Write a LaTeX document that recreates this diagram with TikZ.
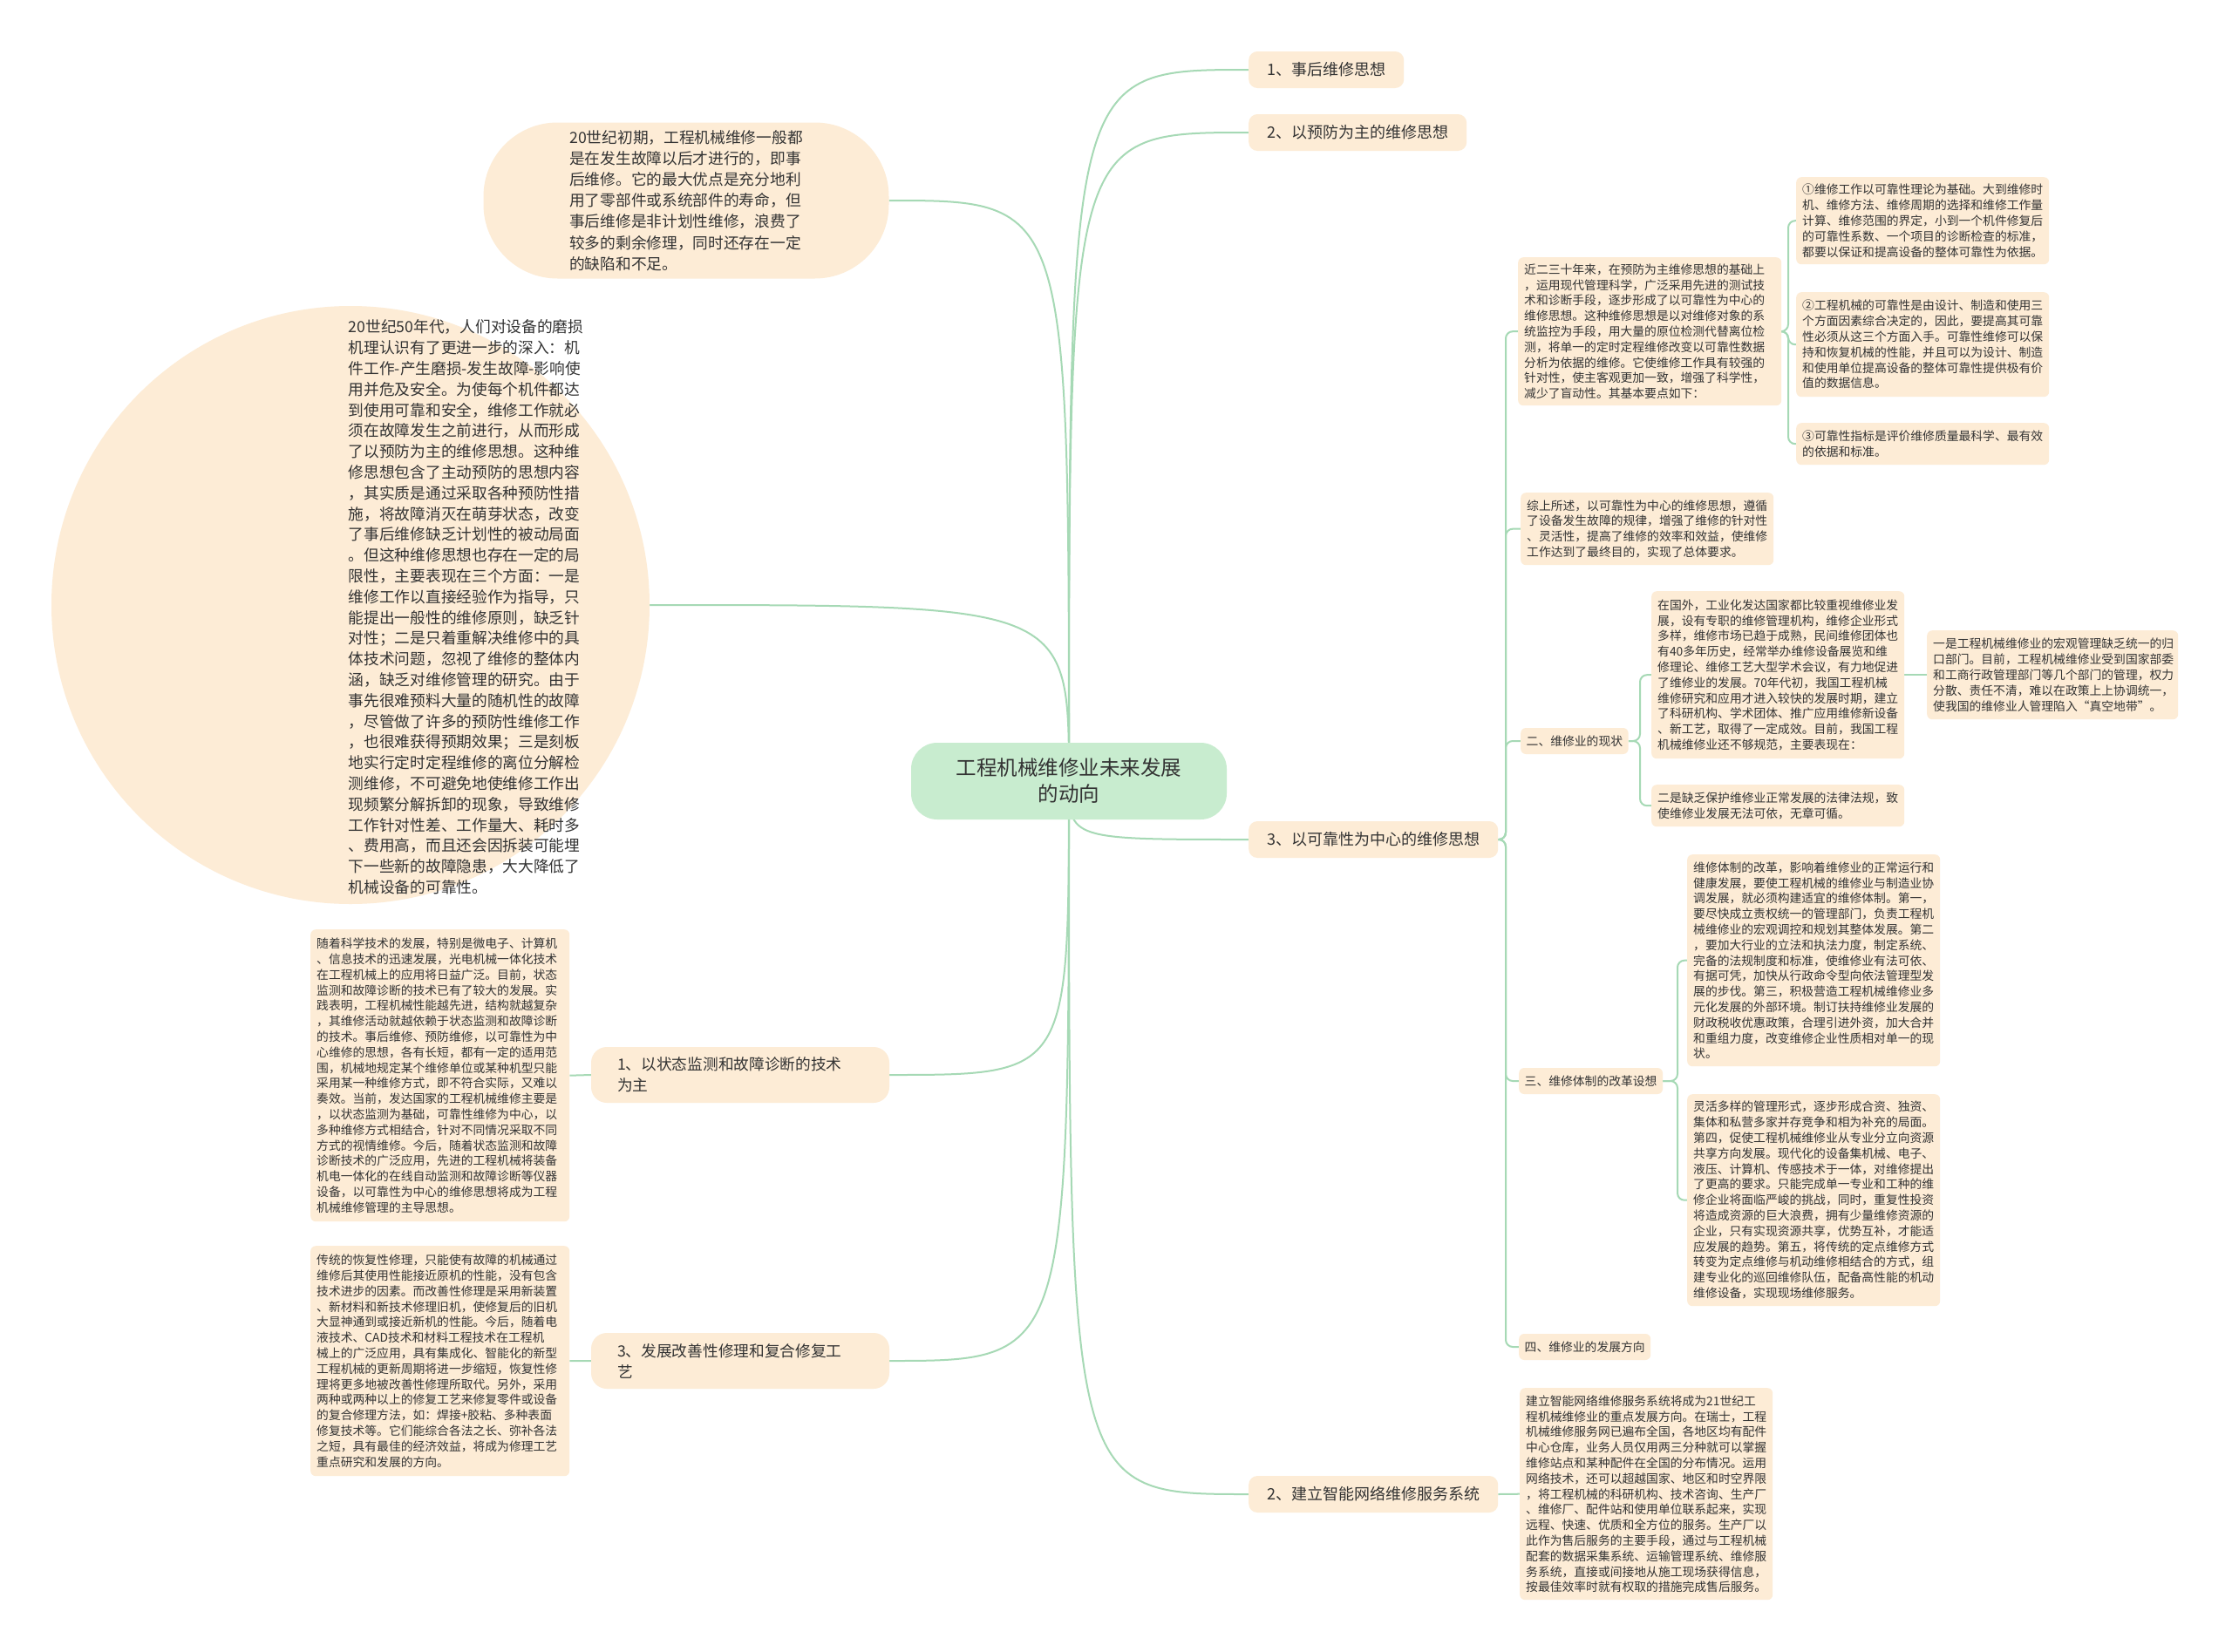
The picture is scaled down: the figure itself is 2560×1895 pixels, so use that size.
\documentclass[tikz,border=0pt]{standalone}
\usepackage{fontspec}
\setmainfont{Noto Sans CJK SC}
\definecolor{peach}{RGB}{253,236,214}
\definecolor{cgreen}{RGB}{200,236,207}
\definecolor{lgreen}{RGB}{166,217,181}
\definecolor{txt}{RGB}{51,51,51}
\pgfdeclarelayer{bg}
\pgfdeclarelayer{lines}
\pgfsetlayers{bg,lines,main}
\begin{document}
\begin{tikzpicture}[x=1pt,y=-1pt,
  conn/.style={draw=lgreen, line width=2pt},
  elbow/.style={conn, rounded corners=8pt},
  leaf/.style={fill=peach, rounded corners=6pt, align=left, text=txt, font=\fontsize{13.8pt}{17.8pt}\selectfont, inner xsep=7pt, inner ysep=0pt, anchor=north west},
  lab/.style={fill=peach, rounded corners=6pt, text=txt, font=\fontsize{13.8pt}{17.8pt}\selectfont, inner xsep=6.5pt, inner ysep=0pt, minimum height=30pt, anchor=west},
  branch/.style={fill=peach, rounded corners=10pt, text=txt, font=\fontsize{18pt}{22pt}\selectfont, inner xsep=21pt, inner ysep=0pt, minimum height=42pt, anchor=west},
  lbranch/.style={fill=peach, rounded corners=18pt, text=txt, font=\fontsize{17.7pt}{24pt}\selectfont, minimum width=342pt, minimum height=64pt, text width=282pt, align=left, inner sep=0pt},
  bigtext/.style={text=txt, align=left, inner sep=0pt},
]
\begin{pgfonlayer}{bg}
\fill[white] (0,0) rectangle (2560,1895);
\end{pgfonlayer}
\useasboundingbox (0,0) rectangle (2560,1895);

% center
\node[fill=cgreen, rounded corners=30pt, minimum width=362pt, minimum height=88pt, align=center, text=txt, font=\fontsize{23.5pt}{30pt}\selectfont] (ctr) at (1226,896) {工程机械维修业未来发展\\的动向};

% right branches
\node[branch] (B1) at (1432,80) {1、事后维修思想};
\node[branch] (B2) at (1432,152) {2、以预防为主的维修思想};
\node[branch] (B3) at (1432,963) {3、以可靠性为中心的维修思想};
\node[branch] (B4) at (1432,1714) {2、建立智能网络维修服务系统};

% left top bubble
\node[fill=peach, rounded corners=85pt, minimum width=465pt, minimum height=179pt, align=left, text=txt, font=\fontsize{17.7pt}{24.2pt}\selectfont] (bub) at (787,230) {20世纪初期，工程机械维修一般都\\是在发生故障以后才进行的，即事\\后维修。它的最大优点是充分地利\\用了零部件或系统部件的寿命，但\\事后维修是非计划性维修，浪费了\\较多的剩余修理，同时还存在一定\\的缺陷和不足。};

% big circle
\node[circle, fill=peach, minimum size=686pt, inner sep=0pt] (circ) at (402,694) {};
\node[bigtext, font=\fontsize{17.7pt}{23.8pt}\selectfont] (circtxt) at (534.5,696.5) {20世纪50年代，人们对设备的磨损\\机理认识有了更进一步的深入：机\\件工作-产生磨损-发生故障-影响使\\用并危及安全。为使每个机件都达\\到使用可靠和安全，维修工作就必\\须在故障发生之前进行，从而形成\\了以预防为主的维修思想。这种维\\修思想包含了主动预防的思想内容\\，其实质是通过采取各种预防性措\\施，将故障消灭在萌芽状态，改变\\了事后维修缺乏计划性的被动局面\\。但这种维修思想也存在一定的局\\限性，主要表现在三个方面：一是\\维修工作以直接经验作为指导，只\\能提出一般性的维修原则，缺乏针\\对性；二是只着重解决维修中的具\\体技术问题，忽视了维修的整体内\\涵，缺乏对维修管理的研究。由于\\事先很难预料大量的随机性的故障\\，尽管做了许多的预防性维修工作\\，也很难获得预期效果；三是刻板\\地实行定时定程维修的离位分解检\\测维修，不可避免地使维修工作出\\现频繁分解拆卸的现象，导致维修\\工作针对性差、工作量大、耗时多\\、费用高，而且还会因拆装可能埋\\下一些新的故障隐患，大大降低了\\机械设备的可靠性。};

% left branches
\node[lbranch] (ln1) at (849,1233) {1、以状态监测和故障诊断的技术\\为主};
\node[lbranch] (ln2) at (849,1561) {3、发展改善性修理和复合修复工\\艺};

\node[leaf, text width=283pt, minimum height=335pt] (boxA) at (356,1066) {随着科学技术的发展，特别是微电子、计算机\\、信息技术的迅速发展，光电机械一体化技术\\在工程机械上的应用将日益广泛。目前，状态\\监测和故障诊断的技术已有了较大的发展。实\\践表明，工程机械性能越先进，结构就越复杂\\，其维修活动就越依赖于状态监测和故障诊断\\的技术。事后维修、预防维修，以可靠性为中\\心维修的思想，各有长短，都有一定的适用范\\围，机械地规定某个维修单位或某种机型只能\\采用某一种维修方式，即不符合实际，又难以\\奏效。当前，发达国家的工程机械维修主要是\\，以状态监测为基础，可靠性维修为中心，以\\多种维修方式相结合，针对不同情况采取不同\\方式的视情维修。今后，随着状态监测和故障\\诊断技术的广泛应用，先进的工程机械将装备\\机电一体化的在线自动监测和故障诊断等仪器\\设备，以可靠性为中心的维修思想将成为工程\\机械维修管理的主导思想。};

\node[leaf, text width=283pt, minimum height=264pt] (boxB) at (356,1429) {传统的恢复性修理，只能使有故障的机械通过\\维修后其使用性能接近原机的性能，没有包含\\技术进步的因素。而改善性修理是采用新装置\\、新材料和新技术修理旧机，使修复后的旧机\\大显神通到或接近新机的性能。今后，随着电\\液技术、CAD技术和材料工程技术在工程机\\械上的广泛应用，具有集成化、智能化的新型\\工程机械的更新周期将进一步缩短，恢复性修\\理将更多地被改善性修理所取代。另外，采用\\两种或两种以上的修复工艺来修复零件或设备\\的复合修理方法，如：焊接+胶粘、多种表面\\修复技术等。它们能综合各法之长、弥补各法\\之短，具有最佳的经济效益，将成为修理工艺\\重点研究和发展的方向。};

% right leaves
\node[leaf, text width=288pt, minimum height=170pt] (r0) at (1741,295) {近二三十年来，在预防为主维修思想的基础上\\，运用现代管理科学，广泛采用先进的测试技\\术和诊断手段，逐步形成了以可靠性为中心的\\维修思想。这种维修思想是以对维修对象的系\\统监控为手段，用大量的原位检测代替离位检\\测，将单一的定时定程维修改变以可靠性数据\\分析为依据的维修。它使维修工作具有较强的\\针对性，使主客观更加一致，增强了科学性，\\减少了盲动性。其基本要点如下：};

\node[leaf, text width=276pt, minimum height=100pt] (r1) at (2060,203) {①维修工作以可靠性理论为基础。大到维修时\\机、维修方法、维修周期的选择和维修工作量\\计算、维修范围的界定，小到一个机件修复后\\的可靠性系数、一个项目的诊断检查的标准，\\都要以保证和提高设备的整体可靠性为依据。};

\node[leaf, text width=276pt, minimum height=120pt] (r2) at (2060,335) {②工程机械的可靠性是由设计、制造和使用三\\个方面因素综合决定的，因此，要提高其可靠\\性必须从这三个方面入手。可靠性维修可以保\\持和恢复机械的性能，并且可以为设计、制造\\和使用单位提高设备的整体可靠性提供极有价\\值的数据信息。};

\node[leaf, text width=276pt, minimum height=48pt] (r3) at (2060,485) {③可靠性指标是评价维修质量最科学、最有效\\的依据和标准。};

\node[leaf, text width=276pt, minimum height=83pt] (r4) at (1744,565) {综上所述，以可靠性为中心的维修思想，遵循\\了设备发生故障的规律，增强了维修的针对性\\、灵活性，提高了维修的效率和效益，使维修\\工作达到了最终目的，实现了总体要求。};

\node[lab] (L2) at (1744,850) {二、维修业的现状};

\node[leaf, text width=276pt, minimum height=192pt] (r5) at (1894,678) {在国外，工业化发达国家都比较重视维修业发\\展，设有专职的维修管理机构，维修企业形式\\多样，维修市场已趋于成熟，民间维修团体也\\有40多年历史，经常举办维修设备展览和维\\修理论、维修工艺大型学术会议，有力地促进\\了维修业的发展。70年代初，我国工程机械\\维修研究和应用才进入较快的发展时期，建立\\了科研机构、学术团体、推广应用维修新设备\\、新工艺，取得了一定成效。目前，我国工程\\机械维修业还不够规范，主要表现在：};

\node[leaf, text width=276pt, minimum height=48pt] (r6) at (1894,900) {二是缺乏保护维修业正常发展的法律法规，致\\使维修业发展无法可依，无章可循。};

\node[leaf, text width=274pt, minimum height=102pt] (r7) at (2210,723) {一是工程机械维修业的宏观管理缺乏统一的归\\口部门。目前，工程机械维修业受到国家部委\\和工商行政管理部门等几个部门的管理，权力\\分散、责任不清，难以在政策上上协调统一，\\使我国的维修业人管理陷入“真空地带”。};

\node[lab] (L3) at (1742,1240) {三、维修体制的改革设想};

\node[leaf, text width=276pt, minimum height=243pt] (r8) at (1935,980) {维修体制的改革，影响着维修业的正常运行和\\健康发展，要使工程机械的维修业与制造业协\\调发展，就必须构建适宜的维修体制。第一，\\要尽快成立责权统一的管理部门，负责工程机\\械维修业的宏观调控和规划其整体发展。第二\\，要加大行业的立法和执法力度，制定系统、\\完备的法规制度和标准，使维修业有法可依、\\有据可凭，加快从行政命令型向依法管理型发\\展的步伐。第三，积极营造工程机械维修业多\\元化发展的外部环境。制订扶持维修业发展的\\财政税收优惠政策，合理引进外资，加大合并\\和重组力度，改变维修企业性质相对单一的现\\状。};

\node[leaf, text width=276pt, minimum height=243pt] (r9) at (1935,1255) {灵活多样的管理形式，逐步形成合资、独资、\\集体和私营多家并存竞争和相为补充的局面。\\第四，促使工程机械维修业从专业分立向资源\\共享方向发展。现代化的设备集机械、电子、\\液压、计算机、传感技术于一体，对维修提出\\了更高的要求。只能完成单一专业和工种的维\\修企业将面临严峻的挑战，同时，重复性投资\\将造成资源的巨大浪费，拥有少量维修资源的\\企业，只有实现资源共享，优势互补，才能适\\应发展的趋势。第五，将传统的定点维修方式\\转变为定点维修与机动维修相结合的方式，组\\建专业化的巡回维修队伍，配备高性能的机动\\维修设备，实现现场维修服务。};

\node[lab] (L4) at (1742,1545) {四、维修业的发展方向};

\node[leaf, text width=276pt, minimum height=243pt] (r10) at (1743,1592) {建立智能网络维修服务系统将成为21世纪工\\程机械维修业的重点发展方向。在瑞士，工程\\机械维修服务网已遍布全国，各地区均有配件\\中心仓库，业务人员仅用两三分种就可以掌握\\维修站点和某种配件在全国的分布情况。运用\\网络技术，还可以超越国家、地区和时空界限\\，将工程机械的科研机构、技术咨询、生产厂\\、维修厂、配件站和使用单位联系起来，实现\\远程、快速、优质和全方位的服务。生产厂以\\此作为售后服务的主要手段，通过与工程机械\\配套的数据采集系统、运输管理系统、维修服\\务系统，直接或间接地从施工现场获得信息，\\按最佳效率时就有权取的措施完成售后服务。};

% junction coordinates
\coordinate (jB3) at (1727,963);
\coordinate (jr0) at (2051,380);
\coordinate (jL2) at (1881,850);
\coordinate (jL3) at (1924,1240);

\begin{pgfonlayer}{lines}
% center curves
\draw[conn] (ctr.center) .. controls (ctr.center |- B1.west) .. (B1.west);
\draw[conn] (ctr.center) .. controls (ctr.center |- B2.west) .. (B2.west);
\draw[conn] (ctr.center) .. controls (ctr.center |- B3.west) .. (B3.west);
\draw[conn] (ctr.center) .. controls (ctr.center |- B4.west) .. (B4.west);
\draw[conn] (ctr.center) .. controls (ctr.center |- bub.east) .. (bub.east);
\draw[conn] (ctr.center) .. controls (ctr.center |- circ.east) .. (circ.east);
\draw[conn] (ctr.center) .. controls (ctr.center |- ln1.east) .. (ln1.east);
\draw[conn] (ctr.center) .. controls (ctr.center |- ln2.east) .. (ln2.east);
% left leaves
\draw[conn] (ln1.west) -- (boxA.east);
\draw[conn] (ln2.west) -- (boxB.east);
% B3 children
\draw[elbow] (B3.east) -- (jB3) |- (r0.west);
\draw[elbow] (B3.east) -- (jB3) |- (r4.west);
\draw[elbow] (B3.east) -- (jB3) |- (L2.west);
\draw[elbow] (B3.east) -- (jB3) |- (L3.west);
\draw[elbow] (B3.east) -- (jB3) |- (L4.west);
% r0 children
\draw[elbow] (r0.east) -- (jr0) |- (r1.west);
\draw[elbow] (r0.east) -- (jr0) |- (r2.west);
\draw[elbow] (r0.east) -- (jr0) |- (r3.west);
% L2 children
\draw[elbow] (L2.east) -- (jL2) |- (r5.west);
\draw[elbow] (L2.east) -- (jL2) |- (r6.west);
\draw[conn] (r5.east) -- (r7.west);
% L3 children
\draw[elbow] (L3.east) -- (jL3) |- (r8.west);
\draw[elbow] (L3.east) -- (jL3) |- (r9.west);
% B4 child
\draw[conn] (B4.east) -- (r10.west);
\end{pgfonlayer}
\end{tikzpicture}
\end{document}
